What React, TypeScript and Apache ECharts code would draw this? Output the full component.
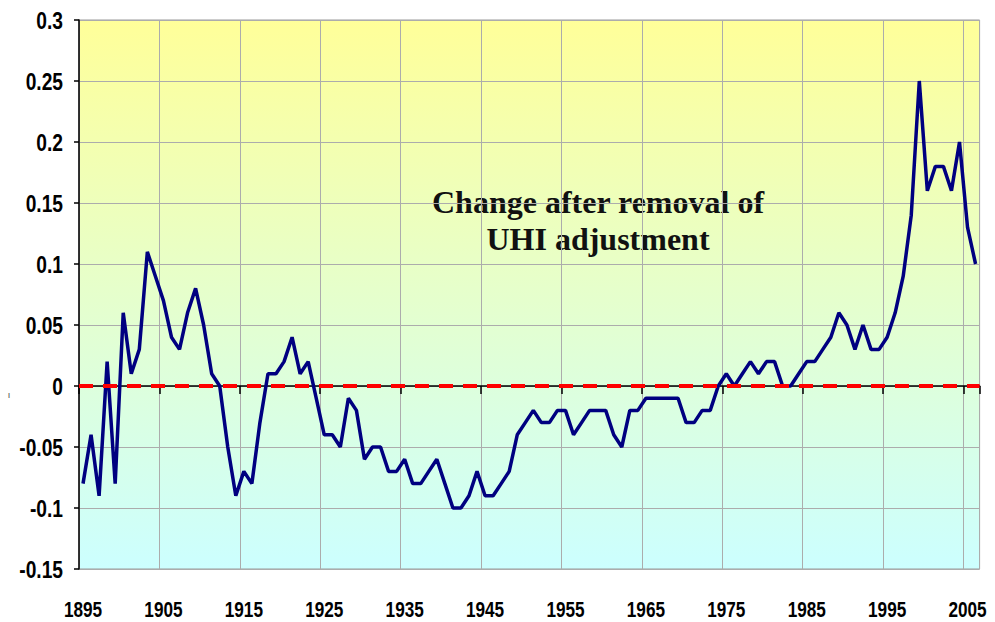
import React, { useEffect, useRef } from "react";
import * as echarts from "echarts";

const firstYear = 1895;
const lastYear = 2006;
const years: string[] = [];
for (let y = firstYear; y <= lastYear; y++) years.push(String(y));

const changeValues: number[] = [
  -0.08, -0.04, -0.09, 0.02, -0.08, 0.06, 0.01, 0.03, 0.11, 0.09,
  0.07, 0.04, 0.03, 0.06, 0.08, 0.05, 0.01, 0.0, -0.05, -0.09,
  -0.07, -0.08, -0.03, 0.01, 0.01, 0.02, 0.04, 0.01, 0.02, -0.01,
  -0.04, -0.04, -0.05, -0.01, -0.02, -0.06, -0.05, -0.05, -0.07, -0.07,
  -0.06, -0.08, -0.08, -0.07, -0.06, -0.08, -0.1, -0.1, -0.09, -0.07,
  -0.09, -0.09, -0.08, -0.07, -0.04, -0.03, -0.02, -0.03, -0.03, -0.02,
  -0.02, -0.04, -0.03, -0.02, -0.02, -0.02, -0.04, -0.05, -0.02, -0.02,
  -0.01, -0.01, -0.01, -0.01, -0.01, -0.03, -0.03, -0.02, -0.02, 0.0,
  0.01, 0.0, 0.01, 0.02, 0.01, 0.02, 0.02, 0.0, 0.0, 0.01,
  0.02, 0.02, 0.03, 0.04, 0.06, 0.05, 0.03, 0.05, 0.03, 0.03,
  0.04, 0.06, 0.09, 0.14, 0.25, 0.16, 0.18, 0.18, 0.16, 0.2,
  0.13, 0.1,
];

const yMin = -0.15;
const yMax = 0.3;
const yStep = 0.05;
const titleLines = ["Change after removal of", "UHI adjustment"];

const labelFont = "'Liberation Sans', Arial, sans-serif";

// The reference's tick labels are horizontally condensed; squeeze them with SVG textLength.
function condenseLabels(root: HTMLElement) {
  const texts = root.querySelectorAll("text");
  texts.forEach((el) => {
    const t = (el.textContent || "").trim();
    if (!/^-?[\d.]+$/.test(t)) return;
    if (el.getAttribute("data-sq") === "1") return;
    const isYear = /^\d{4}$/.test(t);
    const factor = isYear ? 0.78 : 0.8;
    const len = (el as SVGTextElement).getComputedTextLength();
    if (!len) return;
    el.setAttribute("textLength", String(len * factor));
    el.setAttribute("lengthAdjust", "spacingAndGlyphs");
    el.setAttribute("data-sq", "1");
  });
}

export default function App() {
  const ref = useRef<HTMLDivElement>(null);
  useEffect(() => {
    if (!ref.current) return;
    const el = ref.current;
    const chart = echarts.init(el, null, { renderer: "svg" });
    const onRendered = () => condenseLabels(el);
    chart.on("rendered", onRendered);
    chart.on("finished", onRendered);
    chart.setOption({
      animation: false,
      backgroundColor: "#ffffff",
      grid: {
        left: 79,
        right: 13,
        top: 20,
        bottom: 53,
        containLabel: false,
        show: true,
        borderColor: "#9a9a9a",
        borderWidth: 1,
        backgroundColor: new echarts.graphic.LinearGradient(0, 0, 0, 1, [
          { offset: 0, color: "#ffff99" },
          { offset: 1, color: "#ccffff" },
        ]),
      },
      xAxis: {
        type: "category",
        data: years,
        boundaryGap: true,
        axisLine: { show: true, lineStyle: { color: "#000000", width: 1.5 } },
        axisTick: { show: true, interval: 9, length: 8, alignWithLabel: false, lineStyle: { color: "#000000", width: 1.5 } },
        axisLabel: {
          interval: 9,
          margin: 29,
          color: "#000000",
          fontSize: 22,
          fontWeight: "bold",
          fontFamily: labelFont,
        },
        splitLine: { show: true, interval: 9, lineStyle: { color: "#acacac", width: 1 } },
      },
      yAxis: {
        type: "value",
        min: yMin,
        max: yMax,
        interval: yStep,
        axisLine: { show: true, lineStyle: { color: "#000000", width: 1.5 } },
        axisTick: { show: true, length: 5, lineStyle: { color: "#000000", width: 1.5 } },
        axisLabel: {
          margin: 16,
          color: "#000000",
          fontSize: 24,
          fontWeight: "bold",
          fontFamily: labelFont,
          formatter: (v: number) => String(Math.round(v * 100) / 100),
        },
        splitLine: { show: true, lineStyle: { color: "#acacac", width: 1 } },
      },
      graphic: [
        {
          type: "text",
          x: 598,
          y: 202,
          style: {
            text: titleLines[0],
            fill: "#111111",
            font: "bold 32px 'Liberation Serif', 'DejaVu Serif', serif",
            textAlign: "center",
            textVerticalAlign: "middle",
          },
        },
        {
          type: "text",
          x: 598,
          y: 239,
          style: {
            text: titleLines[1],
            fill: "#111111",
            font: "bold 32px 'Liberation Serif', 'DejaVu Serif', serif",
            textAlign: "center",
            textVerticalAlign: "middle",
          },
        },
        {
          type: "text",
          x: 9,
          y: 395,
          style: {
            text: "ı",
            fill: "#444444",
            font: "9px 'Liberation Sans', sans-serif",
            textAlign: "center",
            textVerticalAlign: "middle",
          },
        },
      ],
      series: [
        {
          type: "line",
          data: changeValues,
          symbol: "none",
          lineStyle: { color: "#000080", width: 3.5 },
          z: 3,
          markLine: {
            silent: true,
            symbol: "none",
            label: { show: false },
            lineStyle: { color: "#ff0000", width: 4, type: [14, 10] },
            data: [{ yAxis: 0 }],
          },
        },
      ],
    });
    condenseLabels(el);
    const t1 = window.setTimeout(() => condenseLabels(el), 0);
    const t2 = window.setTimeout(() => condenseLabels(el), 100);
    return () => {
      window.clearTimeout(t1);
      window.clearTimeout(t2);
      chart.dispose();
    };
  }, []);
  return (
    <div
      ref={ref}
      style={{ position: "fixed", left: 0, top: 0, width: 995, height: 622 }}
    />
  );
}
